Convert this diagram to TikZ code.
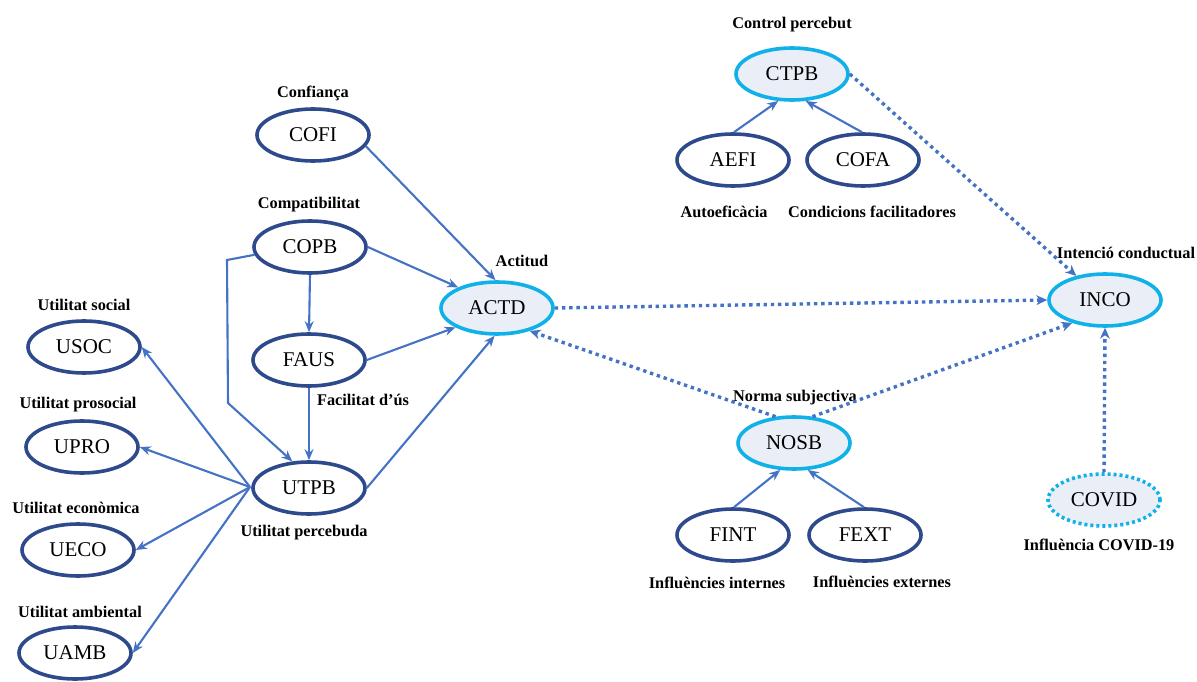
\documentclass[tikz,border=0pt]{standalone}
\usepackage{fontspec}
\setmainfont{Liberation Serif}
\usetikzlibrary{shapes.geometric,arrows.meta}
\definecolor{navy}{RGB}{46,74,140}
\definecolor{linkblue}{RGB}{68,114,196}
\definecolor{cyanline}{RGB}{16,176,232}
\definecolor{paleblue}{RGB}{233,238,247}
\tikzset{
  var/.style={ellipse, draw=navy, line width=3.6pt, fill=white,
    minimum width=112pt, minimum height=52pt, inner sep=0pt,
    font=\fontsize{21}{22}\selectfont},
  construct/.style={var, draw=cyanline, fill=paleblue},
  extvar/.style={construct, dash pattern=on 3pt off 3pt, line cap=butt},
  lbl/.style={font=\fontsize{16.3}{18}\selectfont\bfseries, inner sep=0pt},
  link/.style={draw=linkblue, line width=2.1pt,
    -{Stealth[length=11pt,width=9pt]}},
  effect/.style={draw=linkblue, line width=3.4pt,
    dash pattern=on 3.4pt off 3.8pt,
    -{Stealth[length=11pt,width=10pt,line width=0pt]}}
}
\begin{document}
\begin{tikzpicture}[x=1pt,y=-1pt]
\useasboundingbox (0,0) rectangle (1197,682);

% variables
\node[var] (COFI) at (313,135) {COFI};
\node[var] (COPB) at (310,247) {COPB};
\node[var] (FAUS) at (309,360) {FAUS};
\node[var] (UTPB) at (309,488) {UTPB};
\node[var] (USOC) at (84,347) {USOC};
\node[var] (UPRO) at (82,447) {UPRO};
\node[var] (UECO) at (78,550) {UECO};
\node[var] (UAMB) at (75,653) {UAMB};
\node[var] (AEFI) at (733,160) {AEFI};
\node[var] (COFA) at (863,160) {COFA};
\node[var] (FINT) at (733,535) {FINT};
\node[var] (FEXT) at (865,535) {FEXT};

% constructs
\node[construct] (ACTD) at (497,308) {ACTD};
\node[construct] (CTPB) at (792,74) {CTPB};
\node[construct] (NOSB) at (794,443) {NOSB};
\node[construct] (INCO) at (1105,300) {INCO};
\node[extvar] (COVID) at (1104,500) {COVID};

% labels
\node[lbl] (lCOFI) at (313,93) {Confiança};
\node[lbl] (lCOPB) at (309,205) {Compatibilitat};
\node[lbl] (lACTD) at (522,261) {Actitud};
\node[lbl] (lFAUS) at (363,400) {Facilitat d’ús};
\node[lbl] (lUTPB) at (304,533) {Utilitat percebuda};
\node[lbl] (lUSOC) at (84,305) {Utilitat social};
\node[lbl] (lUPRO) at (78,405) {Utilitat prosocial};
\node[lbl] (lUECO) at (76,508) {Utilitat econòmica};
\node[lbl] (lUAMB) at (80,612) {Utilitat ambiental};
\node[lbl] (lCTPB) at (792,25) {Control percebut};
\node[lbl] (lAEFI) at (724,212) {Autoeficàcia};
\node[lbl] (lCOFA) at (872,212) {Condicions facilitadores};
\node[lbl] (lNOSB) at (795,398) {Norma subjectiva};
\node[lbl] (lFINT) at (717,583) {Influències internes};
\node[lbl] (lFEXT) at (882,582) {Influències externes};
\node[lbl] (lINCO) at (1126,253) {Intenció conductual};
\node[lbl] (lCOVID) at (1099,545) {Influència COVID-19};

% attitude antecedents
\draw[link] (COFI.-12) -- (ACTD.93);
\draw[link] (COPB.east) -- (ACTD.152);
\draw[link] (COPB.south) -- (FAUS.north);
\draw[link] (COPB.188) -- (227,260) -- (228,403) -- (UTPB.122);
\draw[link] (FAUS.east) -- (ACTD.205);
\draw[link] (FAUS.south) -- (UTPB.north);
\draw[link] (UTPB.east) -- (ACTD.265);

% perceived utility dimensions
\coordinate (hub) at (250,487);
\draw[link] (hub) -- (USOC.east);
\draw[link] (hub) -- (UPRO.east);
\draw[link] (hub) -- (UECO.east);
\draw[link] (hub) -- (UAMB.east);

% perceived control and subjective norm
\draw[link] (AEFI.88) -- (CTPB.243);
\draw[link] (COFA.92) -- (CTPB.297);
\draw[link] (FINT.88) -- (NOSB.243);
\draw[link] (FEXT.92) -- (NOSB.297);

% effects on behavioural intention
\draw[effect] (ACTD.east) -- (INCO.west);
\draw[effect] (NOSB.125) -- (ACTD.-35);
\draw[effect] (NOSB.55) -- (INCO.215);
\draw[effect] (CTPB.east) -- (INCO.140);
\draw[effect] (COVID.north) -- (INCO.south);
\end{tikzpicture}
\end{document}
